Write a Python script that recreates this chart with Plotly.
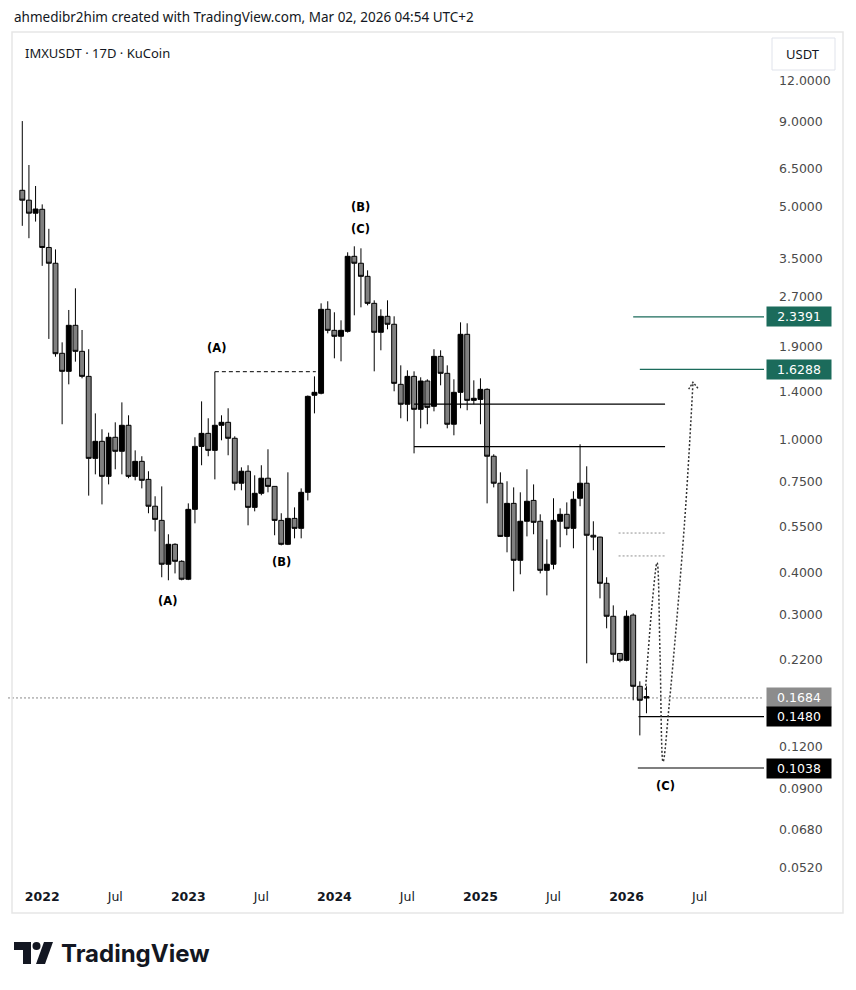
import math
import datetime as dt
import plotly.graph_objects as go

# ---------------- data ----------------
opens = [5.61, 5.24, 4.79, 4.92, 3.78, 3.39, 1.82, 1.607, 2.208, 1.845,
         1.552, 0.881, 0.991, 0.778, 1.019, 0.925, 1.107, 0.778, 0.863, 0.762,
         0.633, 0.574, 0.424, 0.4866, 0.4327, 0.3823, 0.6195, 0.957, 1.047, 0.931,
         1.107, 1.130, 1.012, 0.742, 0.806, 0.628, 0.692, 0.768, 0.726, 0.574,
         0.4866, 0.582, 0.5433, 0.6968, 1.362, 1.381, 2.466, 2.133, 2.047, 2.118,
         3.556, 3.39, 3.097, 2.570, 2.104, 2.350, 2.224, 1.469, 1.280, 1.552,
         1.236, 1.503, 1.262, 1.782, 1.585, 1.115, 1.390, 2.075, 1.315, 1.324,
         1.419, 0.894, 0.742, 0.514, 0.6456, 0.4357, 0.5705, 0.659, 0.5705, 0.4066,
         0.424, 0.5705, 0.5986, 0.5433, 0.6687, 0.742, 0.5179, 0.5115, 0.3717, 0.296,
         0.2290, 0.2184, 0.2985, 0.1825, 0.1700]
highs = [9.05, 6.68, 5.78, 5.09, 4.30, 3.73, 1.963, 2.455, 2.851, 2.138,
         1.872, 1.202, 1.077, 1.052, 1.130, 1.297, 1.186, 0.931, 0.894, 0.806,
         0.678, 0.726, 0.5215, 0.490, 0.4357, 0.6456, 1.019, 1.306, 1.162, 1.603,
         1.186, 1.245, 1.026, 0.828, 0.840, 0.7837, 0.840, 0.938, 0.727, 0.603,
         0.800, 0.628, 0.716, 1.36, 1.552, 2.570, 2.607, 2.416, 2.286, 3.656,
         3.811, 3.758, 3.228, 2.624, 2.466, 2.624, 2.350, 1.675, 1.618, 1.607,
         1.542, 1.521, 1.872, 1.858, 1.675, 1.521, 2.254, 2.239, 1.510, 1.531,
         1.429, 0.906, 0.800, 0.752, 0.721, 0.6968, 0.817, 0.736, 0.5986, 0.5036,
         0.6687, 0.6239, 0.650, 0.702, 0.971, 0.834, 0.5705, 0.513, 0.3876, 0.3192,
         0.2295, 0.3084, 0.302, 0.1889, 0.1825]
lows = [4.39, 4.03, 4.52, 3.33, 2.01, 1.778, 1.115, 1.469, 1.718, 1.531,
        0.681, 0.789, 0.641, 0.736, 0.817, 0.789, 0.768, 0.757, 0.716, 0.603,
        0.532, 0.3876, 0.3796, 0.398, 0.3796, 0.380, 0.5625, 0.840, 0.894, 0.762,
        0.998, 0.900, 0.7066, 0.7066, 0.5547, 0.611, 0.6827, 0.6968, 0.5179, 0.4832,
        0.484, 0.5071, 0.5071, 0.659, 1.202, 1.371, 2.089, 1.758, 1.722, 2.10,
        2.366, 2.500, 2.535, 1.607, 1.858, 2.148, 1.400, 1.162, 1.138, 0.912,
        1.084, 1.115, 1.219, 1.459, 1.084, 1.033, 1.245, 1.228, 1.280, 1.115,
        0.6456, 0.721, 0.512, 0.4604, 0.3517, 0.3956, 0.514, 0.5215, 0.398, 0.342,
        0.4094, 0.4768, 0.5179, 0.4734, 0.633, 0.2139, 0.467, 0.335, 0.2724, 0.2155,
        0.2155, 0.217, 0.1657, 0.130, 0.1515]
closes = [5.24, 4.79, 4.93, 3.78, 3.39, 1.815, 1.607, 2.208, 1.845, 1.552,
          0.881, 0.991, 0.778, 1.019, 0.925, 1.107, 0.778, 0.863, 0.757, 0.633,
          0.578, 0.424, 0.4866, 0.4327, 0.3823, 0.6195, 0.957, 1.047, 0.931, 1.107,
          1.130, 1.012, 0.742, 0.806, 0.628, 0.692, 0.768, 0.726, 0.574, 0.4866,
          0.582, 0.5433, 0.6968, 1.352, 1.390, 2.466, 2.133, 2.047, 2.133, 3.556,
          3.39, 3.097, 2.570, 2.104, 2.350, 2.224, 1.479, 1.280, 1.552, 1.236,
          1.503, 1.253, 1.782, 1.585, 1.115, 1.390, 2.075, 1.315, 1.334, 1.419,
          0.894, 0.742, 0.514, 0.6456, 0.4357, 0.5705, 0.655, 0.5665, 0.4066, 0.424,
          0.574, 0.5986, 0.5433, 0.664, 0.742, 0.5179, 0.5115, 0.3717, 0.296, 0.2277,
          0.2184, 0.296, 0.1825, 0.1657, 0.1684]

last_price = 0.1684
green_levels = [2.3391, 1.6288]
black_levels = [0.1480, 0.1038]
resistance_levels = [1.282, 0.955]
dotted_levels = [0.526, 0.449]
wave_a_high = 1.603

price_ticks = [12, 9, 6.5, 5, 3.5, 2.7, 1.9, 1.4, 1.0, 0.75, 0.55, 0.4, 0.3,
               0.22, 0.12, 0.09, 0.068, 0.052]

# wave labels: (bar index, price, text)
wave_labels = [(21.94, 0.329, "(A)"), (29.2, 1.888, "(A)"), (39.1, 0.431, "(B)"),
               (51.0, 5.0, "(B)"), (51.0, 4.29, "(C)"), (96.9, 0.0917, "(C)")]

# projected path (bar index, price)
proj_x = [93.85, 94.9, 95.6, 96.04, 96.5, 97.4, 99.76, 101.0]
proj_y = [0.178, 0.33, 0.4285, 0.229, 0.1084, 0.159, 0.575, 1.483]
arrow_x = [100.35, 101.0, 101.75]
arrow_y = [1.42, 1.49, 1.43]

# ---------------- 17D bar calendar (resets every year) ----------------
def bar_starts(y0, y1):
    out = []
    for yr in range(y0, y1 + 1):
        k = 0
        while True:
            d = dt.date(yr, 1, 1) + dt.timedelta(days=17 * k)
            if d.year != yr:
                break
            out.append(d)
            k += 1
    return out

cal = [d for d in bar_starts(2021, 2026) if d >= dt.date(2021, 11, 20)]
bar_dates = cal[:len(closes)]
xi = list(range(len(closes)))

tickvals, ticktext = [], []
seen_jul = set()
for i, d in enumerate(cal):
    if d.month == 1 and d.day == 1:
        tickvals.append(i); ticktext.append(f"<b>{d.year}</b>")
    if d.month == 7 and d.year not in seen_jul:
        seen_jul.add(d.year)
        tickvals.append(i); ticktext.append("Jul")

XMIN, XMAX = -1.55, 111.7
YMIN, YMAX = -1.3257, 1.2238

fig = go.Figure()

# reference-pixel -> paper helpers (page has an 8px body margin)
L_, R_, T_, B_ = 12, 764, 32, 882
OFF = 8
def px(x): return (x - L_) / (R_ - L_)
def py(y): return (B_ - y) / (B_ - T_)

# last price dotted line (spans the whole pane, from the page edge)
fig.add_shape(type="line", xref="paper", yref="y", x0=px(0), x1=1, y0=last_price,
              y1=last_price, line=dict(color="#8a8a8a", width=1, dash="2px,2px"), layer="below")

fig.add_trace(go.Candlestick(
    x=xi, open=opens, high=highs, low=lows, close=closes,
    increasing=dict(line=dict(color="#000000", width=1), fillcolor="#000000"),
    decreasing=dict(line=dict(color="#000000", width=1), fillcolor="#808080"),
    whiskerwidth=0, hoverinfo="skip", showlegend=False))

def hline(x0, x1, y, color, width=1, dash="solid"):
    fig.add_trace(go.Scatter(x=[x0, x1], y=[y, y], mode="lines",
                             line=dict(color=color, width=width, dash=dash),
                             hoverinfo="skip", showlegend=False))

TEAL = "#1b6b5b"
hline(92.0, XMAX, green_levels[0], TEAL, 1.2)
hline(93.0, XMAX, green_levels[1], TEAL, 1.2)
hline(92.8, XMAX, black_levels[0], "#000000", 1.2)
hline(92.7, XMAX, black_levels[1], "#000000", 1.2)
hline(59.0, 96.8, resistance_levels[0], "#000000", 1.3)
hline(59.0, 96.8, resistance_levels[1], "#000000", 1.3)
hline(89.8, 96.9, dotted_levels[0], "#8f8f8f", 1, "2px,2px")
hline(89.8, 96.9, dotted_levels[1], "#8f8f8f", 1, "2px,2px")
hline(29.0, 44.2, wave_a_high, "#000000", 1, "4px,3px")

fig.add_trace(go.Scatter(x=proj_x, y=proj_y, mode="lines",
                         line=dict(color="#333333", width=1.5, dash="2px,2px", shape="spline", smoothing=1.0),
                         hoverinfo="skip", showlegend=False))
fig.add_trace(go.Scatter(x=arrow_x, y=arrow_y, mode="lines",
                         line=dict(color="#333333", width=1.4, dash="2px,1.5px"),
                         hoverinfo="skip", showlegend=False))

for x, p, t in wave_labels:
    fig.add_annotation(x=x, y=math.log10(p), xref="x", yref="y", text=f"<b>{t}</b>",
                       showarrow=False, font=dict(family="DejaVu Sans", size=11.5, color="#000000"))

def price_box(val, bg):
    fig.add_annotation(xref="paper", x=1, xanchor="left", xshift=2, yref="y", y=math.log10(val),
                       yanchor="middle", text=f"{val:.4f}", showarrow=False,
                       font=dict(family="DejaVu Sans", size=12.5, color="#ffffff"),
                       bgcolor=bg, borderpad=2, width=60, align="center")

price_box(green_levels[0], TEAL)
price_box(green_levels[1], TEAL)
price_box(last_price, "#8c8c8c")
price_box(black_levels[0], "#000000")
price_box(black_levels[1], "#000000")

fig.add_annotation(xref="paper", yref="paper", x=px(12), y=py(17), xanchor="left", yanchor="middle",
                   text="ahmedibr2him created with TradingView.com, Mar 02, 2026 04:54 UTC+2",
                   showarrow=False, font=dict(family="Noto Sans", size=13.5, color="#131722"))
fig.add_annotation(xref="paper", yref="paper", x=px(23), y=py(53), xanchor="left", yanchor="middle",
                   text="IMXUSDT · 17D · KuCoin", showarrow=False,
                   font=dict(family="Noto Sans", size=13, color="#131722"))
fig.add_shape(type="rect", xref="paper", yref="paper", x0=px(772), x1=px(835), y0=py(70), y1=py(38),
              line=dict(color="#e0e3eb", width=1), fillcolor="white")
fig.add_annotation(xref="paper", yref="paper", x=px(803.5), y=py(54), xanchor="center", yanchor="middle",
                   text="USDT", showarrow=False, font=dict(family="Noto Sans", size=13, color="#131722"))
# panel frame
fig.add_shape(type="rect", xref="paper", yref="paper", x0=px(12), x1=px(843), y0=py(913), y1=py(32),
              line=dict(color="#e6e6e6", width=1.5), layer="below")

# TradingView logo
def path(pts):
    return "M " + " L ".join(f"{px(a):.5f},{py(b):.5f}" for a, b in pts) + " Z"
fig.add_shape(type="path", xref="paper", yref="paper",
              path=path([(14, 942), (31, 942), (31, 964), (23, 964), (23, 950), (14, 950)]),
              fillcolor="#131722", line=dict(width=0))
fig.add_shape(type="circle", xref="paper", yref="paper", x0=px(32.5), x1=px(40.5), y0=py(950), y1=py(942),
              fillcolor="#131722", line=dict(width=0))
fig.add_shape(type="path", xref="paper", yref="paper",
              path=path([(44, 942), (53, 942), (45, 964), (36, 964)]),
              fillcolor="#131722", line=dict(width=0))
fig.add_annotation(xref="paper", yref="paper", x=px(59), y=py(953), xanchor="left", yanchor="middle",
                   text="<b>TradingView</b>", showarrow=False,
                   font=dict(family="Inter", size=24, color="#131722"))

W, H = 856 - OFF, 990 - OFF
fig.update_layout(width=W, height=H,
                  margin=dict(l=L_ - OFF, r=W - (R_ - OFF), t=T_ - OFF, b=H - (B_ - OFF)),
                  paper_bgcolor="white", plot_bgcolor="white", showlegend=False,
                  boxgap=0.26, boxgroupgap=0)
fig.update_xaxes(range=[XMIN, XMAX], showgrid=False, zeroline=False, showline=False,
                 tickmode="array", tickvals=tickvals, ticktext=ticktext, ticks="",
                 tickfont=dict(family="DejaVu Sans", size=12.5, color="#131722"),
                 ticklabelstandoff=5, rangeslider=dict(visible=False))
fig.update_yaxes(type="log", side="right", range=[YMIN, YMAX], showgrid=False, zeroline=False,
                 showline=False, tickmode="array", tickvals=price_ticks,
                 ticktext=[f"{v:.4f}" for v in price_ticks], ticks="",
                 tickfont=dict(family="DejaVu Sans", size=12.5, color="#4a4a4a"),
                 ticklabelstandoff=14)

fig.write_html("out.html")
